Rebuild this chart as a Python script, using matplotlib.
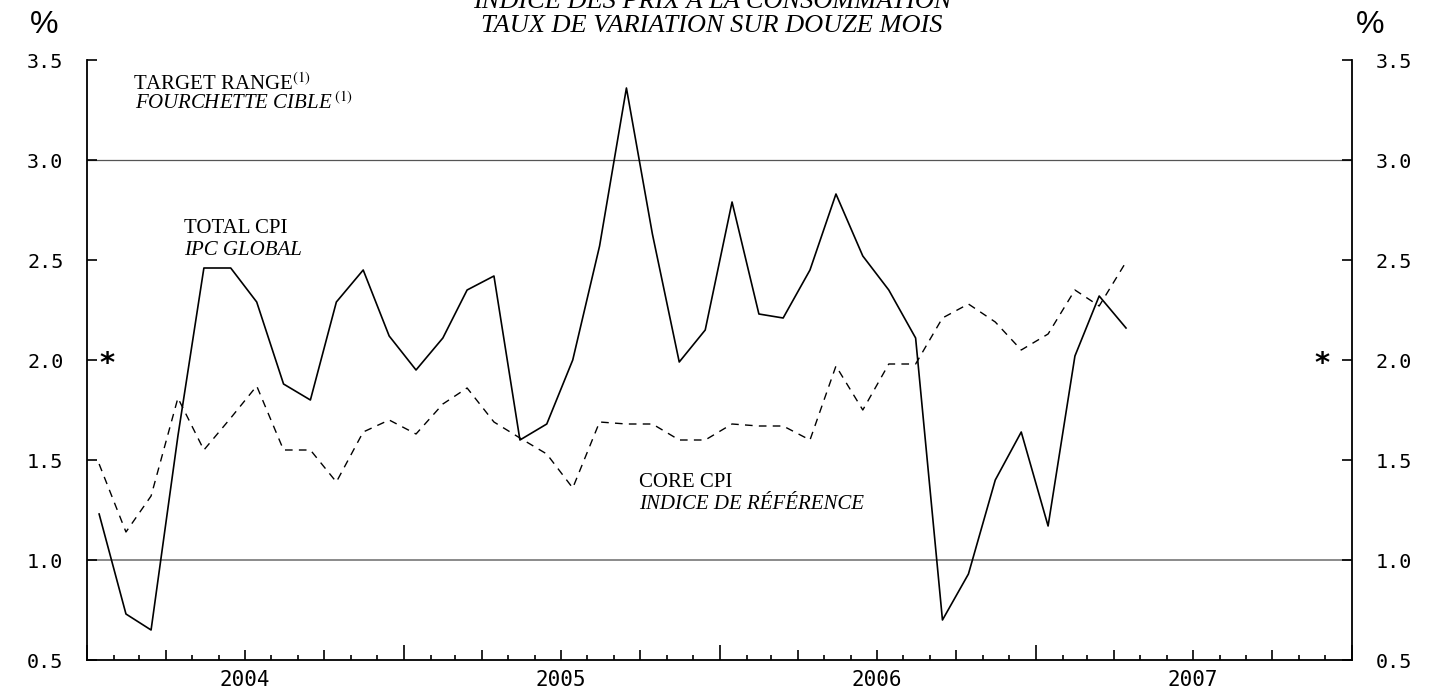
import numpy as np
import pandas as pd
import matplotlib
matplotlib.use('Agg')
import matplotlib.pyplot as plt
import matplotlib.dates as mdates

# 12-month rate of change, monthly, Jan 2004 - Apr 2007 (plotted mid-month)
months = pd.date_range('2004-01-01', periods=40, freq='MS') + pd.Timedelta(days=14)

total_cpi = [1.23, 0.73, 0.65, 1.62, 2.46, 2.46, 2.29, 1.88, 1.80, 2.29,
             2.45, 2.12, 1.95, 2.11, 2.35, 2.42, 1.60, 1.68, 2.00, 2.57,
             3.36, 2.63, 1.99, 2.15, 2.79, 2.23, 2.21, 2.45, 2.83, 2.52,
             2.35, 2.11, 0.70, 0.93, 1.40, 1.64, 1.17, 2.02, 2.32, 2.16]

core_cpi = [1.48, 1.14, 1.32, 1.81, 1.55, 1.71, 1.87, 1.55, 1.55, 1.39,
            1.64, 1.70, 1.63, 1.78, 1.86, 1.69, 1.61, 1.53, 1.36, 1.69,
            1.68, 1.68, 1.60, 1.60, 1.68, 1.67, 1.67, 1.60, 1.97, 1.75,
            1.98, 1.98, 2.21, 2.28, 2.19, 2.05, 2.13, 2.35, 2.27, 2.49]

target_low, target_high = 1.0, 3.0
years = [2004, 2005, 2006, 2007]
yticks = [0.5, 1.0, 1.5, 2.0, 2.5, 3.0, 3.5]

serif = 'Liberation Serif'
mono = 'DejaVu Sans Mono'
plt.rcParams['mathtext.fontset'] = 'stix'

W, H = 1445, 688
fig = plt.figure(figsize=(W / 100, H / 100), dpi=100)
ax = fig.add_axes((87 / W, 28 / H, 1265 / W, 600 / H))

# target range lines
ax.axhline(target_high, color='#555555', lw=0.9, zorder=1)
ax.axhline(target_low, color='#8a8a8a', lw=1.4, zorder=1)

ax.plot(months, total_cpi, color='black', lw=1.2, zorder=3)
ax.plot(months, core_cpi, color='black', lw=1.0, dashes=(5.5, 4.5), zorder=3)

ax.set_xlim(pd.Timestamp('2004-01-01'), pd.Timestamp('2008-01-01'))
ax.set_ylim(0.5, 3.5)

for s in ['left', 'right', 'bottom']:
    ax.spines[s].set_linewidth(1.3)
ax.spines['top'].set_visible(False)

# y ticks on both sides, pointing in
ax.set_yticks(yticks)
ax.set_yticklabels([f'{v:.1f}' for v in yticks])
ax.tick_params(axis='y', direction='in', length=7, width=1.2, left=True, right=True,
               labelleft=True, labelright=True, pad=17, labelsize=14.5)
for lab in ax.get_yticklabels():
    lab.set_family(mono)

# x ticks: months (small), quarters (medium), years (long)
ax.xaxis.set_major_locator(mdates.MonthLocator(bymonth=[1, 4, 7, 10]))
ax.xaxis.set_minor_locator(mdates.MonthLocator())
ax.xaxis.set_major_formatter(plt.NullFormatter())
ax.tick_params(axis='x', which='major', direction='in', length=7.5, width=1.2)
ax.tick_params(axis='x', which='minor', direction='in', length=3.5, width=1.2)
fig.canvas.draw()
for tk in ax.xaxis.get_major_ticks():
    d = mdates.num2date(tk.get_loc())
    if d.month == 1:
        tk.tick1line.set_markersize(11)

for y in years:
    ax.annotate(str(y), xy=(mdates.date2num(pd.Timestamp(f'{y}-07-01')), 0),
                xycoords=ax.get_xaxis_transform(),
                xytext=(0, -10), textcoords='offset pixels', ha='center', va='top',
                family=mono, fontsize=15)

# asterisks
ax.annotate('*', xy=(0, 2.0), xycoords=('axes fraction', 'data'), xytext=(20, -4),
            textcoords='offset pixels', ha='center', va='center', fontsize=21,
            fontweight='bold', family='DejaVu Sans')
ax.annotate('*', xy=(1, 2.0), xycoords=('axes fraction', 'data'), xytext=(-30, -4),
            textcoords='offset pixels', ha='center', va='center', fontsize=21,
            fontweight='bold', family='DejaVu Sans')


def ftxt(x, y, s, **kw):
    fig.text(x / W, 1 - y / H, s, va='baseline', family=serif, **kw)


# title (top line is clipped by the page edge in the original) and units
ftxt(712, 8, 'INDICE DES PRIX À LA CONSOMMATION', ha='center', fontsize=19, style='italic')
ftxt(712, 32, 'TAUX DE VARIATION SUR DOUZE MOIS', ha='center', fontsize=19, style='italic')
fig.text(44 / W, 1 - 33 / H, '%', ha='center', va='baseline', fontsize=23, family='Liberation Sans')
fig.text(1370 / W, 1 - 33 / H, '%', ha='center', va='baseline', fontsize=23, family='Liberation Sans')

# series labels
ftxt(133, 90, 'TARGET RANGE$^{(1)}$', ha='left', fontsize=15)
ftxt(135, 109, 'FOURCHETTE CIBLE$^{\\ (1)}$', ha='left', fontsize=15, style='italic')
ftxt(184, 233, 'TOTAL CPI', ha='left', fontsize=15)
ftxt(184, 255, 'IPC GLOBAL', ha='left', fontsize=15, style='italic')
ftxt(639, 487, 'CORE CPI', ha='left', fontsize=15)
ftxt(639, 509, 'INDICE DE RÉFÉRENCE', ha='left', fontsize=15, style='italic')

fig.savefig('out.png', dpi=100)
